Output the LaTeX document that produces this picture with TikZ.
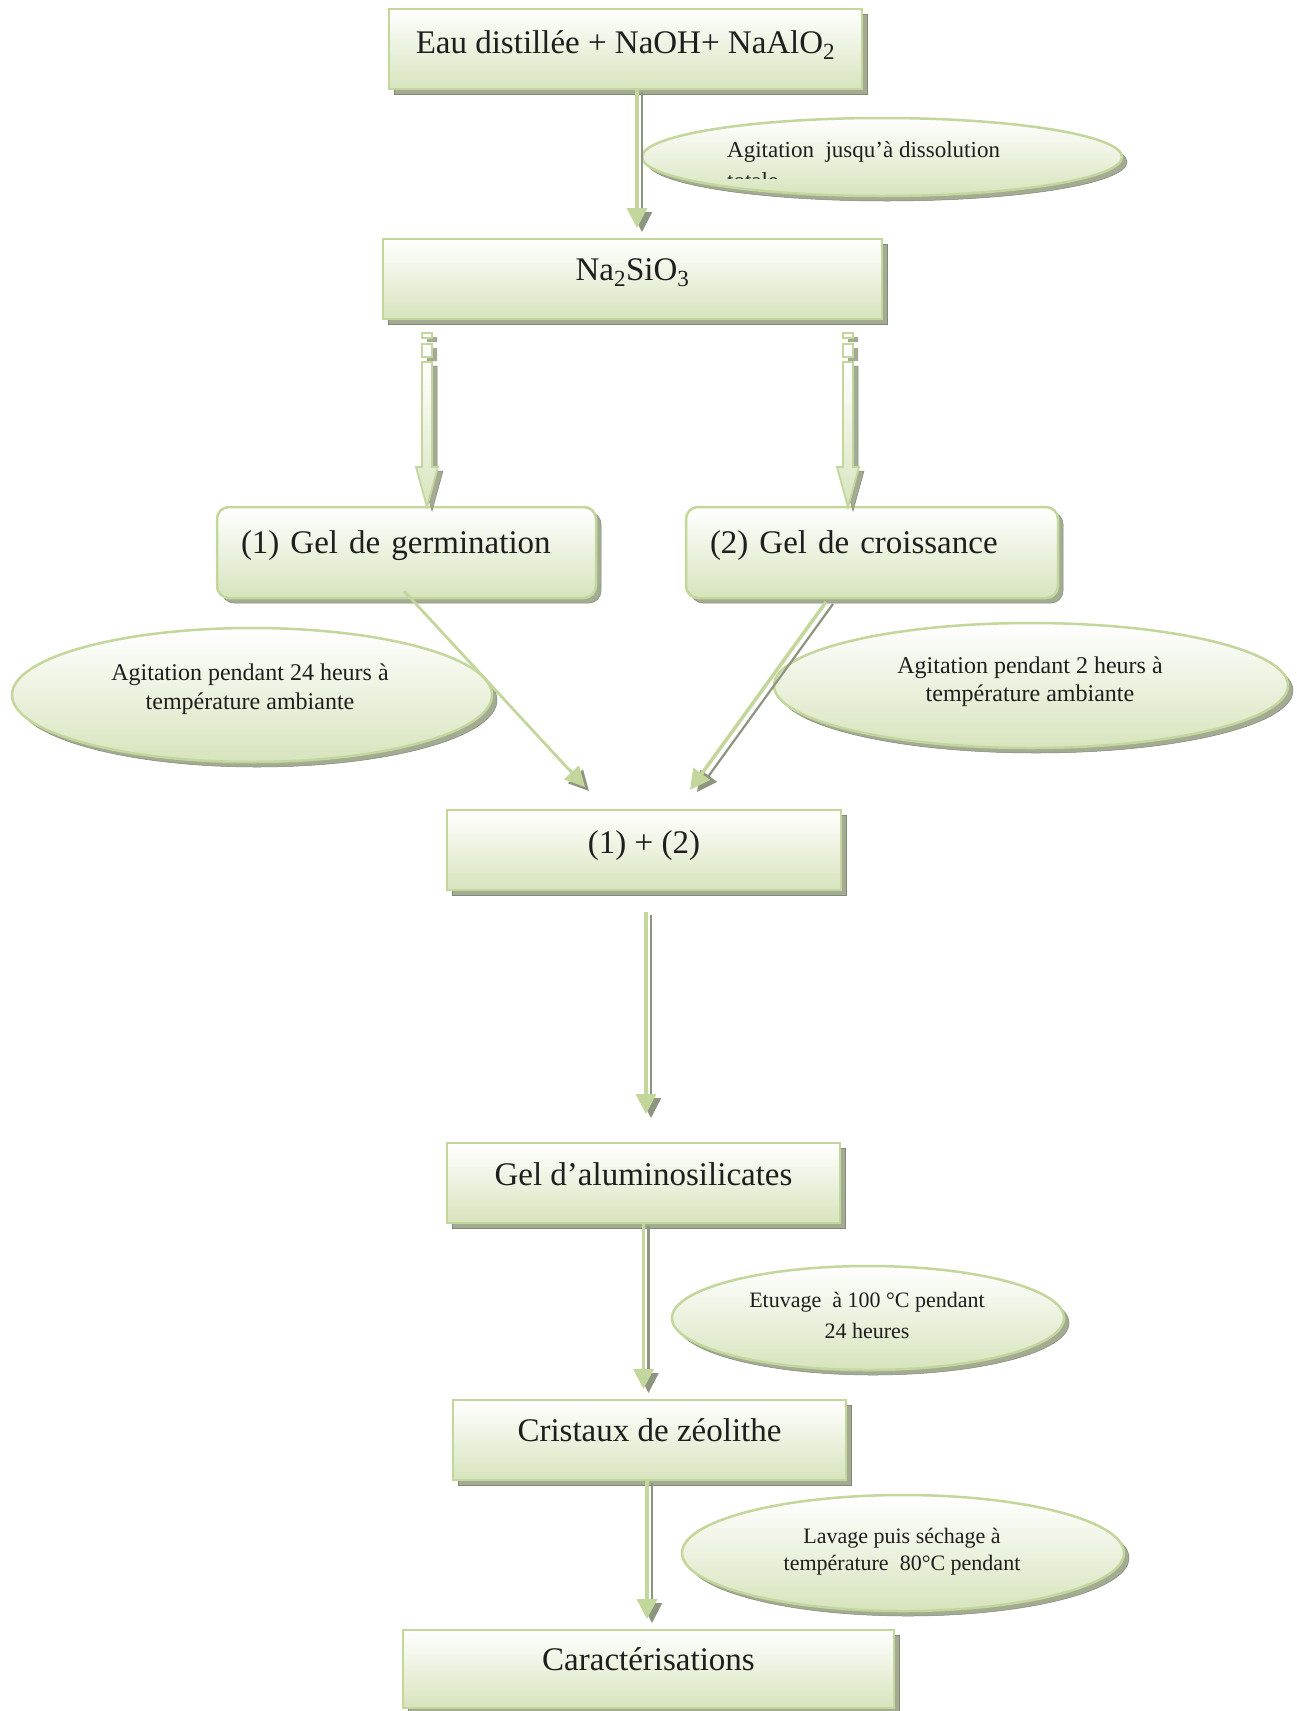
\documentclass[tikz,border=0pt]{standalone}
\usepackage{fontspec}
\setmainfont{Liberation Serif}
\usetikzlibrary{shapes.geometric,shadows,arrows.meta,calc}
\definecolor{gline}{HTML}{C3D69B}
\definecolor{gfill}{HTML}{D7E4BD}
\definecolor{shad}{HTML}{A3AB94}
\definecolor{shadarrc}{HTML}{8C9580}
\definecolor{shadline}{HTML}{7F8A70}
\definecolor{txt}{HTML}{1E1E1E}
\tikzset{
  baseshape/.style={draw=gline, line width=2.5pt, top color=white, bottom color=gfill, inner sep=0pt, text=txt,
    drop shadow={shadow xshift=5pt, shadow yshift=-5pt, fill=shad, opacity=1, draw=shadline, line width=0.5pt}},
  gbox/.style={baseshape, rectangle, font=\fontsize{33}{40}\selectfont},
  grbox/.style={gbox, rounded corners=12pt, align=left, inner xsep=24pt},
  gell/.style={baseshape, ellipse},
  etext/.style={text=txt, inner sep=0pt, align=center, anchor=base},
  thinarr/.style={draw=gline, line width=3.5pt, -{Triangle[length=20pt,width=20pt]}},
  shadarr/.style={draw=shadarrc, line width=2.2pt, -{Triangle[length=20pt,width=20pt]}},
}
\begin{document}
\begin{tikzpicture}[x=1pt,y=-1pt]
\fill[white] (0,0) rectangle (1297,1711);
\useasboundingbox (0,0) rectangle (1297,1711);

% boxes
\node[gbox, minimum width=473pt, text height=44pt, text depth=36pt] (b1) at (625.5,49) {Eau distillée + NaOH+ NaAlO\textsubscript{2}};
\node[gbox, minimum width=499pt, text height=41pt, text depth=39pt] (b2) at (632.5,279) {Na\textsubscript{2}SiO\textsubscript{3}};
\node[grbox, text width=331pt, text height=46pt, text depth=45pt] (b3) at (406.5,552.5) {(1) Gel de germination};
\node[grbox, text width=324pt, text height=46pt, text depth=45pt] (b4) at (872,552.5) {(2) Gel de croissance};
\node[gbox, minimum width=394pt, text height=43pt, text depth=37pt] (b5) at (644,850) {(1) + (2)};
\node[gbox, minimum width=393pt, text height=42pt, text depth=38pt] (b6) at (643.5,1183) {Gel d’aluminosilicates};
\node[gbox, minimum width=393pt, text height=41pt, text depth=39pt] (b7) at (649.5,1440) {Cristaux de zéolithe};
\node[gbox, minimum width=491pt, text height=40pt, text depth=38pt] (b8) at (648.5,1669) {Caractérisations};

% ellipses
\node[gell, minimum width=480pt, minimum height=78pt] (e1) at (882,157) {};
\node[anchor=base west, inner sep=0pt, text=txt, font=\fontsize{23}{28}\selectfont] (e1t) at (727,157) {Agitation\ \ jusqu’à dissolution};
\begin{scope}
\clip (700,160) rectangle (1000,178.5);
\node[anchor=base west, inner sep=0pt, text=txt, font=\fontsize{23}{28}\selectfont] (e1u) at (727,188) {totale};
\end{scope}

\node[gell, minimum width=480pt, minimum height=134pt] (e2) at (252,695) {};
\node[etext, font=\fontsize{24}{29}\selectfont] (e2t) at (250,709) {Agitation pendant 24 heurs à\\température ambiante};

\node[gell, minimum width=514pt, minimum height=125pt] (e5) at (1031,685.5) {};
\node[etext, font=\fontsize{24}{28}\selectfont] (e5t) at (1030,701) {Agitation pendant 2 heurs à\\température ambiante};

\node[gell, minimum width=392pt, minimum height=104pt] (e3) at (868,1318) {};
\node[etext, font=\fontsize{22}{31}\selectfont] (e3t) at (867,1338) {Etuvage\ \ à 100 °C pendant\\24 heures};

\node[gell, minimum width=442pt, minimum height=116pt] (e4) at (903,1553) {};
\node[etext, font=\fontsize{22}{27}\selectfont] (e4t) at (902,1570) {Lavage puis séchage à\\température\ \ 80°C pendant};

% fat arrows
\foreach \cx in {427,848}{
  \fill[shad, draw=shadline, line width=0.5pt, shift={(5,4)}] (\cx-5,362) -- (\cx+5,362) -- (\cx+5,467) -- (\cx+11,467) -- (\cx,507) -- (\cx-11,467) -- (\cx-5,467) -- cycle;
  \fill[shad, shift={(5,4)}] (\cx-5,333) rectangle (\cx+5,338) (\cx-5,344) rectangle (\cx+5,357);
  \path[draw=gline, line width=1.8pt, top color=white, bottom color=gfill] (\cx-5,362) -- (\cx+5,362) -- (\cx+5,467) -- (\cx+11,467) -- (\cx,507) -- (\cx-11,467) -- (\cx-5,467) -- cycle;
  \path[draw=gline, line width=1.5pt, fill=white] (\cx-5,333) rectangle (\cx+5,338) (\cx-5,344) rectangle (\cx+5,357);
}

% connector end points
\coordinate (a1s) at (637,89);   \coordinate (a1e) at (637,228);
\coordinate (lS) at (404,591);   \coordinate (lE) at (585,787);
\coordinate (rS) at (826,602);   \coordinate (rE) at (690,790);
\coordinate (a5s) at (646,912);  \coordinate (a5e) at (646,1114);
\coordinate (a6s) at (643.5,1223); \coordinate (a6e) at (643.5,1389);
\coordinate (a7s) at (647,1480); \coordinate (a7e) at (647,1619);

% thin arrows
\foreach \s/\e in {a1s/a1e, a5s/a5e, a6s/a6e, a7s/a7e}{
  \draw[shadarr] ($(\s)+(5,3)$) -- ($(\e)+(5,4)$);
  \draw[thinarr] (\s) -- (\e);
}
\draw[shadarr] ($(rS)+(7,2)$) -- ($(rE)+(7,2)$);
\draw[thinarr] (rS) -- (rE);
\draw[shadarr] ($(lE)!30pt!(lS)+(4,4)$) -- ($(lE)+(4,4)$);
\draw[thinarr, line width=2.8pt] (lS) -- (lE);
\end{tikzpicture}
\end{document}
